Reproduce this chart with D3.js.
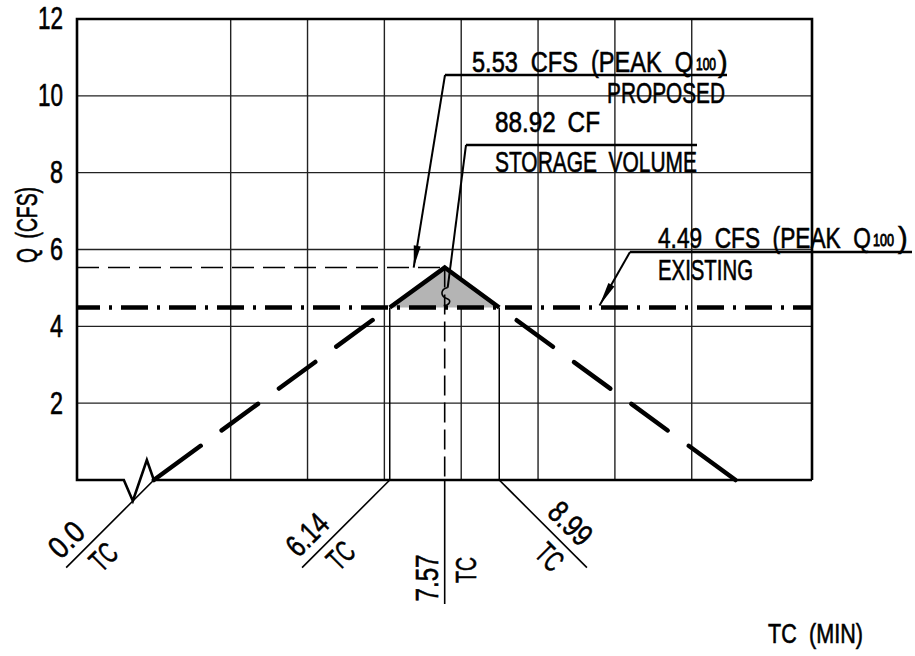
<!DOCTYPE html>
<html>
<head>
<meta charset="utf-8">
<script src="https://d3js.org/d3.v7.min.js"></script>
<style>
  html, body { margin: 0; padding: 0; background: #fff; }
  svg { display: block; }
</style>
</head>
<body>
<svg id="chart"></svg>
<script>
// values
const qTicks = [2, 4, 6, 8, 10, 12];
const tcGrid = [2, 4, 6, 8, 10, 12, 14];
const tcMarks = [0.0, 6.14, 7.57, 8.99];
const tcLabels = ["0.0", "6.14", "7.57", "8.99"];
const hydroTC = [0, 7.57, 15.14];
const hydroQ = [0, 5.53, 0];
const proposedQ = 5.53;
const existingQ = 4.49;
const storageCF = 88.92;

const width = 915,
  height = 656;
const margin = { top: 19, right: 103, bottom: 176, left: 77 };
const FONT = '"Liberation Sans Narrow","Liberation Sans",Arial,sans-serif';

const svg = d3.select("#chart").attr("width", width).attr("height", height);

const x = d3
  .scaleLinear()
  .domain([-2, 17.13])
  .range([margin.left, width - margin.right]);
const y = d3
  .scaleLinear()
  .domain([0, 12])
  .range([height - margin.bottom, margin.top]);

const x0 = x.range()[0],
  x1 = x.range()[1];
const y0 = y(0),
  yTop = y(12);

// grid
const grid = svg.append("g").attr("stroke", "#222").attr("stroke-width", 1.4);
grid
  .selectAll(".h")
  .data(qTicks.filter((d) => d < 12))
  .join("line")
  .attr("x1", x0)
  .attr("x2", x1)
  .attr("y1", (d) => y(d))
  .attr("y2", (d) => y(d));
grid
  .selectAll(".v")
  .data(tcGrid)
  .join("line")
  .attr("x1", (d) => x(d))
  .attr("x2", (d) => x(d))
  .attr("y1", yTop)
  .attr("y2", y0);

// y axis labels, squeezed like the CAD lettering
const yAxis = svg
  .append("g")
  .attr("transform", `translate(${x0},0)`)
  .call(d3.axisLeft(y).tickValues(qTicks).tickSize(0).tickPadding(14));
yAxis.select(".domain").remove();
yAxis
  .selectAll("text")
  .attr("font-family", FONT)
  .attr("font-size", 31)
  .attr("fill", "#000")
  .attr("stroke", "#000")
  .attr("stroke-width", 0.6)
  .each(function (d) {
    const el = d3.select(this);
    const nat = this.getComputedTextLength();
    const k = (String(d).length > 1 ? 25 : 13) / nat;
    const tx = +el.attr("x") || 0;
    el.attr("transform", `translate(${tx},0) scale(${k},1)`).attr("x", 0);
  });

// storage triangle (above existing peak)
const tA = tcMarks[1],
  tP = tcMarks[2],
  tB = tcMarks[3];
svg
  .append("path")
  .attr(
    "d",
    d3.line()([
      [x(tA), y(existingQ)],
      [x(tP), y(proposedQ)],
      [x(tB), y(existingQ)],
    ]) + "Z"
  )
  .attr("fill", "#b4b4b4");

// thin verticals at 6.14 and 8.99
svg
  .selectAll(".tcv")
  .data([tA, tB])
  .join("line")
  .attr("x1", (d) => x(d))
  .attr("x2", (d) => x(d))
  .attr("y1", y(existingQ))
  .attr("y2", y0)
  .attr("stroke", "#000")
  .attr("stroke-width", 1.5);

// dashed peak lines
svg
  .append("line")
  .attr("x1", x0)
  .attr("x2", x(tP))
  .attr("y1", y(proposedQ))
  .attr("y2", y(proposedQ))
  .attr("stroke", "#000")
  .attr("stroke-width", 1.4)
  .attr("stroke-dasharray", "22 9");
svg
  .append("line")
  .attr("x1", x(tP))
  .attr("x2", x(tP))
  .attr("y1", y(proposedQ))
  .attr("y2", y0)
  .attr("stroke", "#000")
  .attr("stroke-width", 1.6)
  .attr("stroke-dasharray", "20 7");

// hydrograph: long-dash limbs below existing peak, solid above
const hydro = hydroTC.map((t, i) => [t, hydroQ[i]]);
const limbDash = "58 26 45 26 45 26 45 60";
svg
  .selectAll(".limb")
  .data([
    [hydro[0], [tA, existingQ]],
    [hydro[2], [tB, existingQ]],
  ])
  .join("line")
  .attr("x1", (d) => x(d[0][0]))
  .attr("y1", (d) => y(d[0][1]))
  .attr("x2", (d) => x(d[1][0]))
  .attr("y2", (d) => y(d[1][1]))
  .attr("stroke", "#000")
  .attr("stroke-width", 4.5)
  .attr("stroke-linecap", "round")
  .attr("stroke-dasharray", limbDash);
svg
  .append("path")
  .attr(
    "d",
    d3.line()([
      [x(tA), y(existingQ)],
      [x(hydro[1][0]), y(hydro[1][1])],
      [x(tB), y(existingQ)],
    ])
  )
  .attr("fill", "none")
  .attr("stroke", "#000")
  .attr("stroke-width", 4.5)
  .attr("stroke-linejoin", "miter");

// existing peak: dash-dot
svg
  .append("line")
  .attr("x1", x0)
  .attr("x2", x1)
  .attr("y1", y(existingQ))
  .attr("y2", y(existingQ))
  .attr("stroke", "#000")
  .attr("stroke-width", 4.5)
  .attr("stroke-dasharray", "27 9 3 9")
  .attr("stroke-dashoffset", 4);

// frame with break symbol at origin
const xb = x(0);
svg
  .append("path")
  .attr(
    "d",
    `M${x1},${y0}L${x1},${yTop}L${x0},${yTop}L${x0},${y0}L${xb - 30},${y0}` +
      `L${xb - 21},${y0 + 21}L${xb - 7},${y0 - 20}L${xb},${y0}L${x1},${y0}`
  )
  .attr("fill", "none")
  .attr("stroke", "#000")
  .attr("stroke-width", 2.6)
  .attr("stroke-linejoin", "miter");

// ---------- text helpers ----------
// text is squeezed horizontally to the width it has in the drawing
function txt(g, s, px, py, o = {}) {
  const t = g
    .append("text")
    .attr("x", 0)
    .attr("y", 0)
    .attr("font-family", FONT)
    .attr("font-size", o.size || 29)
    .attr("fill", "#000")
    .attr("stroke", "#000")
    .attr("stroke-width", o.sw == null ? 0.6 : o.sw)
    .attr("text-anchor", o.anchor || "start")
    .style("word-spacing", o.ws || "0px")
    .text(s);
  let k = 1;
  if (o.len) k = o.len / t.node().getComputedTextLength();
  t.attr("transform", `translate(${px},${py}) scale(${k},1)`);
  return t;
}

function arrow(from, to, len, hw) {
  svg
    .append("line")
    .attr("x1", from[0])
    .attr("y1", from[1])
    .attr("x2", to[0])
    .attr("y2", to[1])
    .attr("stroke", "#000")
    .attr("stroke-width", 2);
  const dx = to[0] - from[0],
    dy = to[1] - from[1],
    L = Math.hypot(dx, dy);
  const ux = dx / L,
    uy = dy / L;
  const bx = to[0] - ux * len,
    by = to[1] - uy * len;
  svg
    .append("path")
    .attr(
      "d",
      `M${to[0]},${to[1]}L${bx - uy * hw},${by + ux * hw}L${bx + uy * hw},${by - ux * hw}Z`
    )
    .attr("fill", "#000");
}

function shelf(xa, xbEnd, yy) {
  svg
    .append("line")
    .attr("x1", xa)
    .attr("x2", xbEnd)
    .attr("y1", yy)
    .attr("y2", yy)
    .attr("stroke", "#000")
    .attr("stroke-width", 2.4);
}

// ---------- annotations ----------
// proposed peak
shelf(445, 727, 75);
arrow([445, 75], [x(tP) - 31, y(proposedQ)], 22, 3.5);
txt(svg, `${proposedQ.toFixed(2)} CFS (PEAK Q`, 472, 72, { len: 221, ws: "8px" });
txt(svg, "100", 696, 70, { size: 17, len: 20, sw: 0.9 });
txt(svg, ")", 718, 72);
txt(svg, "PROPOSED", 725, 103, { anchor: "end", len: 118 });

// storage volume
shelf(466, 697, 145);
const sx = x(tP) + 3,
  sy = y(proposedQ) + 20;
svg
  .append("line")
  .attr("x1", 466)
  .attr("y1", 145)
  .attr("x2", sx)
  .attr("y2", sy)
  .attr("stroke", "#000")
  .attr("stroke-width", 2);
svg
  .append("path")
  .attr(
    "d",
    `M${sx},${sy}C${sx - 8},${sy + 2} ${sx - 7},${sy + 9} ${sx - 1},${sy + 11}` +
      `C${sx + 5},${sy + 13} ${sx + 1},${sy + 18} ${sx - 4},${sy + 18}`
  )
  .attr("fill", "none")
  .attr("stroke", "#000")
  .attr("stroke-width", 1.6);
txt(svg, `${storageCF.toFixed(2)} CF`, 495, 132, { len: 105, ws: "6px" });
txt(svg, "STORAGE VOLUME", 495, 172, { len: 202, ws: "8px" });

// existing peak
shelf(630, 912, 252);
arrow([630, 252], [x(11.6), y(existingQ) - 2], 24, 3.5);
txt(svg, `${existingQ.toFixed(2)} CFS (PEAK Q`, 658, 248, { len: 213, ws: "8px" });
txt(svg, "100", 873, 246, { size: 17, len: 21, sw: 0.9 });
txt(svg, ")", 898, 248);
txt(svg, "EXISTING", 658, 280, { len: 95 });

// axis titles
svg
  .append("g")
  .attr("transform", "translate(37,225) rotate(-90)")
  .call((g) => txt(g, "Q (CFS)", 0, 0, { anchor: "middle", size: 29, len: 76, ws: "6px" }));
txt(svg, "TC (MIN)", 768, 643, { size: 27, len: 95, ws: "8px" });

// TC leaders and labels along the time axis
const tcLayout = [
  { rot: -45, lead: -124, num: [-104, -9], tc: [-90, 29], nlen: 37 },
  { rot: -45, lead: -124, num: [-97, -9], tc: [-88, 29], nlen: 46 },
  { rot: -90, lead: -124, num: [-98, -7], tc: [-90, 31], nlen: 47 },
  { rot: 45, lead: 124, num: [81, -9], tc: [90, 29], nlen: 48 },
];
tcMarks.forEach((t, i) => {
  const L = tcLayout[i];
  const g = svg
    .append("g")
    .attr("transform", `translate(${x(t)},${y0}) rotate(${L.rot})`);
  g.append("line")
    .attr("x1", 0)
    .attr("y1", 0)
    .attr("x2", L.lead)
    .attr("y2", 0)
    .attr("stroke", "#000")
    .attr("stroke-width", 1.6);
  txt(g, tcLabels[i], L.num[0], L.num[1], { anchor: "middle", size: 31, len: L.nlen });
  txt(g, "TC", L.tc[0], L.tc[1], { anchor: "middle", size: 30, len: 26 });
});
</script>
</body>
</html>
